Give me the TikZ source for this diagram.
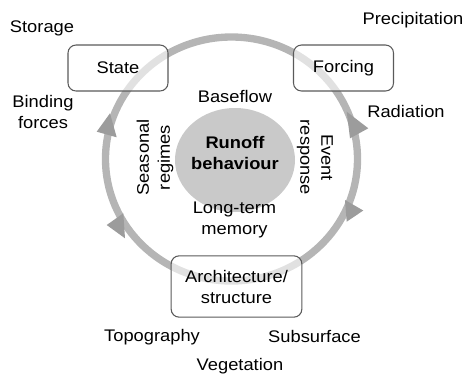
\documentclass[tikz,border=0pt]{standalone}
\usepackage{fontspec}
\setmainfont{Liberation Sans}[FakeStretch=1.09]
\usepackage{tikz}
\definecolor{ringgray}{HTML}{B5B5B5}
\definecolor{tipgray}{HTML}{9C9C9C}
\definecolor{hubgray}{HTML}{C9C9C9}
\definecolor{edgegray}{HTML}{5A5A5A}

\begin{document}
\begin{tikzpicture}[x=0.75pt, y=-0.75pt, font=\fontsize{12.6}{15.75}\selectfont, box/.style={draw=edgegray, line width=0.8pt, rounded corners=6pt, fill=white, fill opacity=0.6, text opacity=1, align=center, inner sep=0pt}, lbl/.style={align=center, inner sep=0pt}, ring/.style={draw=ringgray, line width=5.5pt}, tip/.style={fill=tipgray}]
\useasboundingbox (0,0) rectangle (465,376);
% the cycle and the hub in the middle
\draw[ring] (231.5,159) ellipse [x radius=126, y radius=122];
\fill[hubgray] (235,160) ellipse [x radius=60, y radius=52];
% arrow heads on the ring
\fill[tip] (110,113.3) -- (96.7,131.7) -- (116.7,137.3) -- cycle;
\fill[tip] (123.3,213.3) -- (106.7,225) -- (125,238.3) -- cycle;
\fill[tip] (346.7,111.7) -- (368.3,128.3) -- (350,138.3) -- cycle;
\fill[tip] (345,200) -- (363.3,210.5) -- (346.7,221.7) -- cycle;
% boxes
\node[box, minimum width=75pt, minimum height=34.5pt] (state) at (118,68) {State};
\node[box, minimum width=75pt, minimum height=34.5pt] (forcing) at (343.5,68) {Forcing};
\node[box, minimum width=98pt, minimum height=46pt] (arch) at (236.5,286.5) {Architecture/\\structure};
% outer labels
\node[lbl] (storage) at (42,28) {Storage};
\node[lbl] (binding) at (43,111.5) {Binding\\forces};
\node[lbl] (precip) at (413,20.5) {Precipitation};
\node[lbl] (radiation) at (406,111) {Radiation};
\node[lbl] (topo) at (152,337.5) {Topography};
\node[lbl] (subsurf) at (314.5,336.5) {Subsurface};
\node[lbl] (veget) at (240,366.5) {Vegetation};
% inner labels
\node[lbl, font=\fontsize{12.6}{15.75}\selectfont\bfseries] (runoff) at (235,153) {Runoff\\behaviour};
\node[lbl] (baseflow) at (235,96.5) {Baseflow};
\node[lbl] (memory) at (234.5,220) {Long-term\\memory};
\node[lbl, rotate=90] (seasonal) at (155,157.5) {Seasonal\\regimes};
\node[lbl, rotate=-90] (event) at (315,157.5) {Event\\response};
\end{tikzpicture}
\end{document}
